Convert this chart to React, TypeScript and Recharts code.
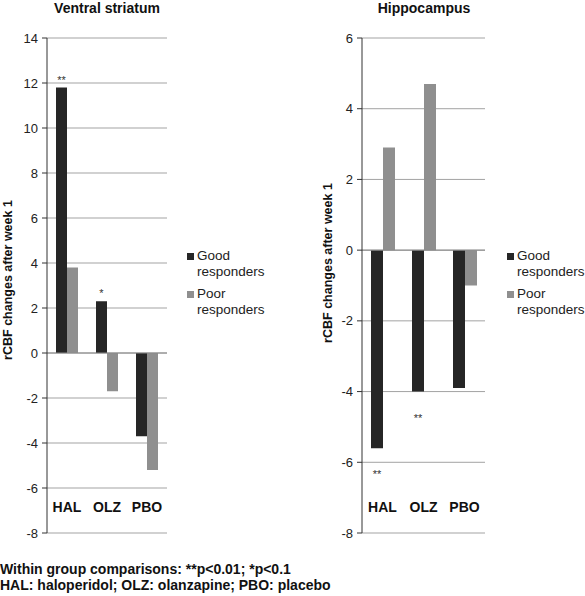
import React from 'react';
import { BarChart, Bar, XAxis, YAxis, CartesianGrid, LabelList, ReferenceLine } from 'recharts';

const categories = ['HAL', 'OLZ', 'PBO'];
const seriesNames = ['Good responders', 'Poor responders'];

const vsGood = [11.8, 2.3, -3.7];
const vsPoor = [3.8, -1.7, -5.2];
const vsSig = ['**', '*', ''];
const vsTicks = [-8, -6, -4, -2, 0, 2, 4, 6, 8, 10, 12, 14];

const hcGood = [-5.6, -4.0, -3.9];
const hcPoor = [2.9, 4.7, -1.0];
const hcSig = ['**', '**', ''];
const hcTicks = [-8, -6, -4, -2, 0, 2, 4, 6];

const titles = ['Ventral striatum', 'Hippocampus'];
const yLabel = 'rCBF changes after week 1';
const footnotes = [
  'Within group comparisons: **p<0.01; *p<0.1',
  'HAL: haloperidol; OLZ: olanzapine; PBO: placebo',
];

const GOOD = '#262626';
const POOR = '#8f8f8f';
const FONT = '"Liberation Sans", Arial, Helvetica, sans-serif';

const build = (good: number[], poor: number[], sig: string[]) =>
  categories.map((c, i) => ({ cat: c, good: good[i], poor: poor[i], sig: sig[i] }));

const CatTick = (props: any) => {
  const { x, y, payload } = props;
  return (
    <text x={x} y={y - 21} textAnchor="middle" fontFamily={FONT} fontSize={14} fontWeight="bold" fill="#111">
      {payload.value}
    </text>
  );
};

const SigLabel = (props: any) => {
  const { x, y, width, value } = props;
  if (!value) return null;
  const v = Number(props.height);
  const isNeg = v < 0;
  const ty = isNeg ? y + 30 : y - 4;
  return (
    <text
      x={x + width / 2}
      y={ty}
      textAnchor="middle"
      fontFamily={FONT}
      fontSize={11}
      fill="#333"
      stroke="none"
      style={{ fill: '#333' }}
    >
      {value}
    </text>
  );
};

type PanelProps = {
  data: any[];
  ticks: number[];
  left: number;
  width: number;
  axisWidth: number;
  marginRight: number;
  barSize: number;
  labelX: number;
  labelY: number;
};

const Panel = ({ data, ticks, left, width, axisWidth, marginRight, barSize, labelX, labelY }: PanelProps) => (
  <div style={{ position: 'absolute', left, top: 0 }}>
    <BarChart
      width={width}
      height={545}
      data={data}
      margin={{ top: 38, right: marginRight, bottom: 11, left: 0 }}
      barGap={0}
    >
      <CartesianGrid vertical={false} stroke="#a3a3a3" />
      <ReferenceLine y={0} stroke="#8a8a8a" />
      <XAxis
        dataKey="cat"
        axisLine={false}
        tickLine={false}
        tickSize={0}
        tickMargin={0}
        height={1}
        tick={<CatTick />}
        interval={0}
      />
      <YAxis
        width={axisWidth}
        domain={[ticks[0], ticks[ticks.length - 1]]}
        ticks={ticks}
        interval={0}
        axisLine={{ stroke: '#333' }}
        tickLine={{ stroke: '#333' }}
        tickSize={5}
        tickMargin={4}
        tick={{ fontSize: 13, fill: '#222', fontFamily: FONT }}
        label={{
          content: (p: any) => {
            const vb = p.viewBox;
            const cx = vb.x + labelX;
            return (
              <text
                x={cx}
                y={labelY}
                transform={`rotate(-90, ${cx}, ${labelY})`}
                textAnchor="middle"
                dominantBaseline="central"
                fontFamily={FONT}
                fontSize={12.5}
                fontWeight="bold"
                fill="#111"
              >
                {yLabel}
              </text>
            );
          },
        }}
      />
      <Bar dataKey="good" name={seriesNames[0]} fill={GOOD} barSize={barSize} isAnimationActive={false}>
        <LabelList dataKey="sig" content={<SigLabel />} />
      </Bar>
      <Bar dataKey="poor" name={seriesNames[1]} fill={POOR} barSize={barSize} isAnimationActive={false} />
    </BarChart>
  </div>
);

const LegendBox = ({ left, top }: { left: number; top: number }) => (
  <div style={{ position: 'absolute', left, top, fontFamily: FONT, fontSize: 13.5, color: '#222', lineHeight: '16px' }}>
    {seriesNames.map((n, i) => {
      const [a, b] = n.split(' ');
      return (
        <div key={n} style={{ marginBottom: 6 }}>
          <div style={{ whiteSpace: 'nowrap' }}>
            <span
              style={{
                display: 'inline-block',
                width: 7,
                height: 7,
                background: i === 0 ? GOOD : POOR,
                marginRight: 3,
                verticalAlign: 'baseline',
              }}
            />
            {a}
          </div>
          <div style={{ paddingLeft: 10 }}>{b}</div>
        </div>
      );
    })}
  </div>
);

export default function App() {
  return (
    <div style={{ position: 'absolute', left: 0, top: 0, width: 585, height: 596, background: '#fff', overflow: 'hidden' }}>
      <div style={{ position: 'absolute', left: 0, width: 214, top: 0, textAlign: 'center', fontFamily: FONT, fontSize: 14, fontWeight: 'bold', color: '#111' }}>
        {titles[0]}
      </div>
      <div style={{ position: 'absolute', left: 324, width: 200, top: 0, textAlign: 'center', fontFamily: FONT, fontSize: 14, fontWeight: 'bold', color: '#111' }}>
        {titles[1]}
      </div>
      <Panel
        data={build(vsGood, vsPoor, vsSig)}
        ticks={vsTicks}
        left={0}
        width={290}
        axisWidth={47}
        marginRight={123}
        barSize={11}
        labelX={8}
        labelY={280}
      />
      <Panel
        data={build(hcGood, hcPoor, hcSig)}
        ticks={hcTicks}
        left={290}
        width={295}
        axisWidth={72}
        marginRight={100}
        barSize={12}
        labelX={38}
        labelY={263}
      />
      <LegendBox left={187} top={248} />
      <LegendBox left={507} top={248} />
      <div style={{ position: 'absolute', left: 0, top: 561, fontFamily: FONT, fontSize: 14, fontWeight: 'bold', color: '#111', lineHeight: '16px' }}>
        {footnotes.map((f) => (
          <div key={f}>{f}</div>
        ))}
      </div>
    </div>
  );
}
